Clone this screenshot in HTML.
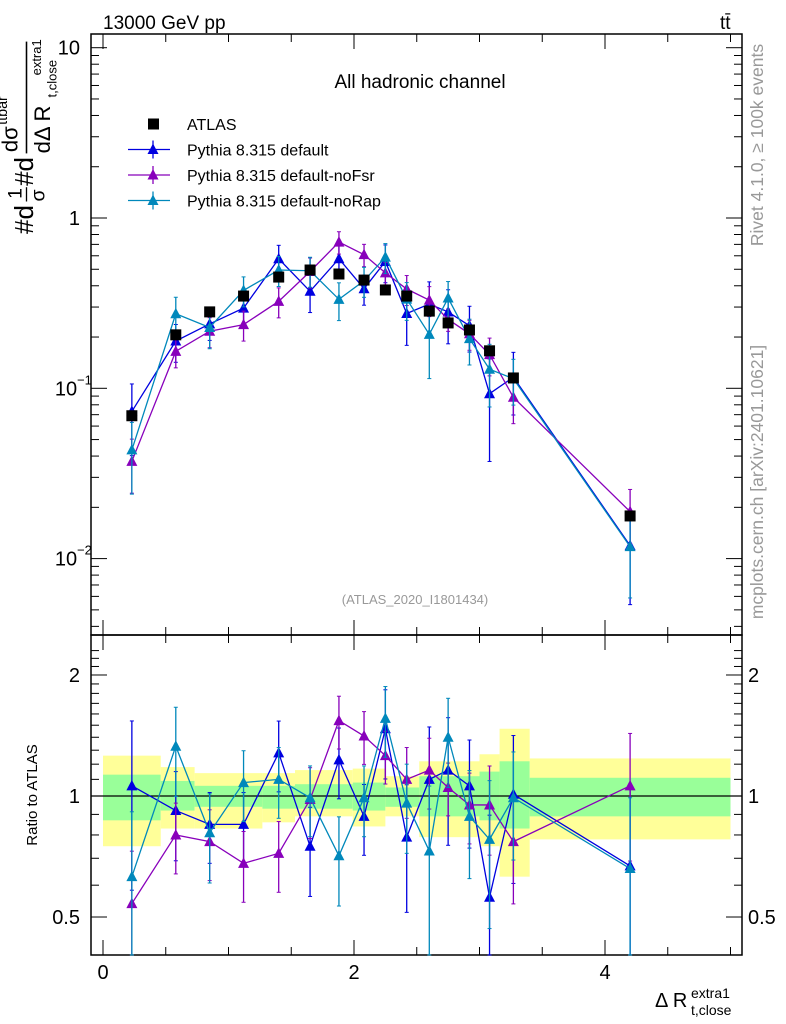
<!DOCTYPE html>
<html><head><meta charset="utf-8"><style>
body{margin:0;background:#fff;}
svg{display:block;font-family:"Liberation Sans",sans-serif;}
</style></head><body>
<svg id="c" width="786" height="1024" viewBox="0 0 786 1024">
<g id="bands"></g>
<g id="axes"></g>
<g id="series"></g>
<text x="103" y="29" font-size="19">13000 GeV pp</text>
<text x="720" y="29" font-size="19">tt̄</text>
<text x="420" y="88" font-size="19" text-anchor="middle">All hadronic channel</text>
<text x="415" y="604" font-size="13" fill="#999" text-anchor="middle">(ATLAS_2020_I1801434)</text>
<text transform="translate(763,145) rotate(-90)" font-size="17.5" fill="#999" text-anchor="middle">Rivet 4.1.0, ≥ 100k events</text>
<text transform="translate(763,482) rotate(-90)" font-size="17.5" fill="#999" text-anchor="middle">mcplots.cern.ch [arXiv:2401.10621]</text>
<text transform="translate(37,795) rotate(-90)" font-size="15" text-anchor="middle">Ratio to ATLAS</text>
<g transform="translate(33,234) rotate(-90) scale(1.3)">
<text x="0" y="0" font-size="20">#d</text>
<text x="27" y="-9" font-size="15">1</text>
<line x1="25" y1="-5" x2="36" y2="-5" stroke="#000" stroke-width="1"/>
<text x="25" y="9" font-size="15">σ</text>
<text x="37" y="0" font-size="20">#d</text>
<text x="63" y="-12" font-size="17">dσ</text><text x="84" y="-20" font-size="11">ttbar</text>
<line x1="62" y1="-5" x2="148" y2="-5" stroke="#000" stroke-width="1.2"/>
<text x="62" y="13" font-size="17">dΔ R</text><text x="105" y="18" font-size="10">t,close</text><text x="122" y="6" font-size="10">extra1</text>
</g>
<text x="655" y="1007" font-size="20">Δ R</text>
<text x="691" y="998" font-size="14">extra1</text>
<text x="691" y="1015" font-size="14">t,close</text>
<g id="legend"></g>
</svg>
<script>
const xVals=[0.23,0.58,0.85,1.12,1.4,1.65,1.88,2.08,2.25,2.42,2.6,2.75,2.92,3.08,3.27,4.2];
const atlas=[0.069,0.206,0.281,0.348,0.45,0.495,0.469,0.432,0.378,0.348,0.284,0.242,0.22,0.166,0.115,0.0178];
const ratioDefault=[1.06,0.92,0.85,0.85,1.28,0.75,1.23,0.89,1.47,0.79,1.10,1.16,1.06,0.56,1.01,0.67];
const ratioNoFsr=[0.54,0.80,0.77,0.68,0.72,0.98,1.54,1.41,1.26,1.10,1.16,1.05,0.95,0.95,0.77,1.06];
const ratioNoRap=[0.63,1.33,0.81,1.08,1.10,0.99,0.71,0.99,1.56,0.96,0.73,1.40,0.89,0.78,0.99,0.66];
const errDefault=[0.45,0.25,0.2,0.2,0.2,0.25,0.2,0.2,0.25,0.35,0.35,0.35,0.3,0.6,0.4,0.55];
const errNoFsr=[0.35,0.2,0.2,0.2,0.2,0.2,0.15,0.15,0.15,0.2,0.2,0.15,0.2,0.25,0.3,0.35];
const errNoRap=[0.45,0.25,0.25,0.2,0.2,0.2,0.25,0.2,0.2,0.25,0.45,0.25,0.3,0.4,0.3,0.5];
const bandEdges=[0,0.46,0.73,1.27,1.53,1.99,2.25,2.52,3.0,3.16,3.4,5.0];
const bandYellowUp=[1.26,1.18,1.14,1.14,1.16,1.17,1.12,1.22,1.27,1.47,1.24];
const bandYellowDn=[0.75,0.83,0.83,0.86,0.89,0.84,0.89,0.79,0.75,0.63,0.78];
const bandGreenUp=[1.13,1.09,1.06,1.06,1.07,1.08,1.05,1.12,1.15,1.22,1.11];
const bandGreenDn=[0.87,0.92,0.94,0.93,0.93,0.92,0.94,0.89,0.87,0.83,0.89];
const xTicks=[0,2,4];
const yMainTicks=[10,1,0.1,0.01];
const yMainLabels=["10","1","10","10"];
const yMainExp=["","","−1","−2"];
const yRatioTicks=[2,1,0.5];
const yRatioLabels=["2","1","0.5"];

const NS="http://www.w3.org/2000/svg";
const L=91,R=742,T=34,M=635,B=955;
const X=v=>103+v*125.5;
const Y=v=>218-Math.log10(v)*170.3;
const YR=v=>796-Math.log10(v)*402;
function mk(tag,attrs,parent){const e=document.createElementNS(NS,tag);for(const k in attrs)e.setAttribute(k,attrs[k]);parent.appendChild(e);return e;}
const axes=document.getElementById('axes'),bands=document.getElementById('bands'),ser=document.getElementById('series'),leg=document.getElementById('legend');

for(let i=0;i<bandEdges.length-1;i++){
 const x1=X(bandEdges[i]),x2=Math.min(X(bandEdges[i+1]),R);
 let r=mk('rect',{x:x1,y:YR(bandYellowUp[i]),width:x2-x1,height:YR(bandYellowDn[i])-YR(bandYellowUp[i]),fill:'#ffff99'},bands);
 
 
 let g=mk('rect',{x:x1,y:YR(bandGreenUp[i]),width:x2-x1,height:YR(bandGreenDn[i])-YR(bandGreenUp[i]),fill:'#99ff99'},bands);
 
 
}
mk('line',{x1:L,y1:YR(1),x2:R,y2:YR(1),stroke:'#000','stroke-width':1.2},axes);

mk('rect',{x:L,y:T,width:R-L,height:M-T,fill:'none',stroke:'#000','stroke-width':1.5},axes);
mk('rect',{x:L,y:M,width:R-L,height:B-M,fill:'none',stroke:'#000','stroke-width':1.5},axes);

for(let v=0;v<=5.01;v+=0.5){
 const major=Math.abs(v-Math.round(v/2)*2)<1e-6, len=major?15:8;
 const px=X(v);
 [[T,1],[M,-1],[M,1],[B,-1]].forEach(([y,d])=>mk('line',{x1:px,y1:y,x2:px,y2:y+d*len,stroke:'#000','stroke-width':1},axes));
}
xTicks.forEach(v=>{const t=mk('text',{x:X(v),y:979,'font-size':20,'text-anchor':'middle'},axes);t.textContent=v;
 
 });

for(let d=-3;d<=1;d++){for(let m=1;m<=9;m++){const v=m*Math.pow(10,d);const py=Y(v);if(py<T||py>M)continue;
 const len=m===1?16:8;
 mk('line',{x1:L,y1:py,x2:L+len,y2:py,stroke:'#000'},axes);mk('line',{x1:R,y1:py,x2:R-len,y2:py,stroke:'#000'},axes);}}
yMainTicks.forEach((v,i)=>{const t=mk('text',{x:yMainExp[i]?66:80,y:Y(v)+7,'font-size':20,'text-anchor':yMainExp[i]?'middle':'end'},axes);t.textContent=yMainLabels[i];
 
 
 if(yMainExp[i]){const s=mk('text',{x:77,y:Y(v)-4,'font-size':13},axes);s.textContent=yMainExp[i];}});

for(let v=0.4;v<=2.31;v+=0.1){const py=YR(v);if(py<M||py>B)continue;
 const major=[0.5,1,2].some(m=>Math.abs(m-v)<1e-6),len=major?16:8;
 mk('line',{x1:L,y1:py,x2:L+len,y2:py,stroke:'#000'},axes);mk('line',{x1:R,y1:py,x2:R-len,y2:py,stroke:'#000'},axes);}
yRatioTicks.forEach((v,i)=>{let t=mk('text',{x:80,y:YR(v)+7,'font-size':20,'text-anchor':'end'},axes);t.textContent=yRatioLabels[i];
 
 
 let t2=mk('text',{x:748,y:YR(v)+7,'font-size':20},axes);t2.textContent=yRatioLabels[i];
 
 });

function tri(g,x,y,c){mk('polygon',{points:`${x},${y-6} ${x-5.5},${y+4.5} ${x+5.5},${y+4.5}`,fill:c},g);}
const mcs=[['pythia-default',ratioDefault,errDefault,'#0000e0'],['pythia-nofsr',ratioNoFsr,errNoFsr,'#8800bb'],['pythia-norap',ratioNoRap,errNoRap,'#0088bb']];
mcs.forEach(([name,rat,err,col])=>{
 const g=mk('g',{},ser);
 
 
 const ptsM=[],ptsR=[];
 xVals.forEach((x,i)=>{const v=atlas[i]*rat[i];ptsM.push(X(x)+','+Y(v));ptsR.push(X(x)+','+YR(rat[i]));});
 mk('polyline',{points:ptsM.join(' '),fill:'none',stroke:col,'stroke-width':1.3},g);
 mk('polyline',{points:ptsR.join(' '),fill:'none',stroke:col,'stroke-width':1.3},g);
 xVals.forEach((x,i)=>{
  const v=atlas[i]*rat[i],e=err[i];
  const px=X(x);
  let y1=Y(v*(1+e)),y2=Y(Math.max(v*(1-e),1e-5));y2=Math.min(y2,M);
  mk('line',{x1:px,y1:y1,x2:px,y2:y2,stroke:col,'stroke-width':1.3},g);
  mk('line',{x1:px-2,y1:y1,x2:px+2,y2:y1,stroke:col},g);mk('line',{x1:px-2,y1:y2,x2:px+2,y2:y2,stroke:col},g);
  tri(g,px,Y(v),col);
  let r1=Math.max(YR(rat[i]*(1+e)),M),r2=Math.min(YR(Math.max(rat[i]*(1-e),0.01)),B);
  mk('line',{x1:px,y1:r1,x2:px,y2:r2,stroke:col,'stroke-width':1.3},g);
  mk('line',{x1:px-2,y1:r1,x2:px+2,y2:r1,stroke:col},g);mk('line',{x1:px-2,y1:r2,x2:px+2,y2:r2,stroke:col},g);
  if(YR(rat[i])<B)tri(g,px,YR(rat[i]),col);
 });
});
const gd=mk('g',{},ser);


xVals.forEach((x,i)=>{const r=mk('rect',{x:X(x)-5.5,y:Y(atlas[i])-5.5,width:11,height:11,fill:'#000'},gd);
 
 });

const legItems=[['ATLAS','#000','sq'],['Pythia 8.315 default','#0000e0','tri'],['Pythia 8.315 default-noFsr','#8800bb','tri'],['Pythia 8.315 default-noRap','#0088bb','tri']];
legItems.forEach(([lab,col,type],i)=>{
 const y=124+i*25.5;
 const g=mk('g',{},leg);
 
 
 if(type==='sq')mk('rect',{x:148,y:y-5.5,width:11,height:11,fill:col},g);
 else{mk('line',{x1:128,y1:y,x2:170,y2:y,stroke:col,'stroke-width':1.3},g);mk('line',{x1:153,y1:y-9,x2:153,y2:y+9,stroke:col,'stroke-width':1.3},g);tri(g,153,y,col);}
 const t=mk('text',{x:187,y:y+6,'font-size':16},g);t.textContent=lab;
});
</script>
</body></html>
